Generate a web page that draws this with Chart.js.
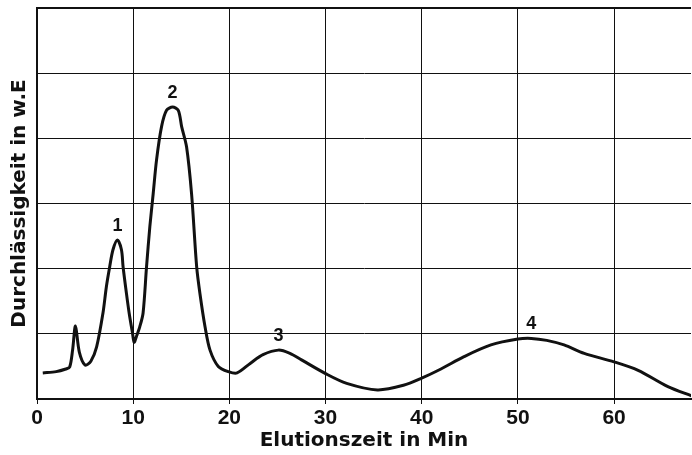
<!DOCTYPE html>
<html>
<head>
<meta charset="utf-8">
<script src="https://cdn.jsdelivr.net/npm/chart.js@4/dist/chart.umd.min.js"></script>
<style>
  html, body { margin: 0; padding: 0; background: #fff; }
  #wrap { width: 692px; height: 455px; }
</style>
</head>
<body>
<div id="wrap"><canvas id="chart"></canvas></div>
<script>
// Elutionskurve: Zeit (min) gegen Durchlässigkeit (w.E.)
const elutionTime = [0.6, 2.0, 3.0, 3.4, 3.7, 4.0, 4.4, 5.0, 5.6, 6.2, 6.86, 7.21, 7.56, 7.9, 8.36, 8.78, 8.95, 9.3, 9.58, 9.93, 10.1,
  10.34, 10.69, 11.03, 11.39, 11.73, 12.08, 12.43, 12.95, 13.47, 14.1, 14.69, 15.04, 15.55, 16.07, 16.6, 16.94, 17.47, 17.99, 18.85, 19.9, 20.8,
  22.2, 23.5, 25.1, 26.3, 27.5, 30.0, 32.2, 35.4, 38.1, 40.0, 42.0, 44.4, 47.2, 50.0, 51.4,
  53.0, 54.8, 56.9, 60.0, 62.5, 65.6, 68.2];
const transmission = [0.40, 0.42, 0.46, 0.49, 0.75, 1.12, 0.72, 0.52, 0.58, 0.80, 1.32, 1.72, 2.03, 2.29, 2.44, 2.29, 2.03, 1.62, 1.32, 1.01, 0.87,
  0.96, 1.11, 1.32, 2.03, 2.64, 3.15, 3.67, 4.18, 4.43, 4.48, 4.43, 4.18, 3.87, 3.15, 2.03, 1.62, 1.11, 0.75, 0.50, 0.42, 0.40,
  0.55, 0.68, 0.75, 0.70, 0.60, 0.39, 0.24, 0.14, 0.21, 0.32, 0.46, 0.65, 0.83, 0.92, 0.93,
  0.90, 0.83, 0.70, 0.57, 0.44, 0.19, 0.04];

// Peaknummern und ihre Lage (Index in den Datenreihen)
const peakNames = ['1', '2', '3', '4'];
const peakIndex = [14, 30, 44, 56];

const xTicks = [0, 10, 20, 30, 40, 50, 60];
const yGrid = [0, 1, 2, 3, 4, 5, 6];

const ink = '#111';

const peakLabels = {
  id: 'peakLabels',
  afterDatasetsDraw(chart) {
    const { ctx, scales: { x, y } } = chart;
    ctx.save();
    ctx.fillStyle = ink;
    ctx.font = 'bold 18px "Liberation Sans", Arial, sans-serif';
    ctx.textAlign = 'center';
    ctx.textBaseline = 'middle';
    peakNames.forEach((name, i) => {
      const k = peakIndex[i];
      const px = x.getPixelForValue(elutionTime[k]);
      const py = y.getPixelForValue(transmission[k]);
      ctx.fillText(name, px, py - 14);
    });
    ctx.restore();
  }
};

new Chart(document.getElementById('chart'), {
  type: 'line',
  data: {
    datasets: [{
      data: elutionTime.map((t, i) => ({ x: t, y: transmission[i] })),
      borderColor: ink,
      borderWidth: 3,
      pointRadius: 0,
      tension: 0.3,
      fill: false
    }]
  },
  options: {
    responsive: true,
    maintainAspectRatio: false,
    animation: false,
    layout: { padding: { top: 8, right: 1, left: 0, bottom: 0 } },
    plugins: { legend: { display: false }, tooltip: { enabled: false } },
    scales: {
      x: {
        type: 'linear',
        min: 0,
        max: 68,
        afterBuildTicks: axis => { axis.ticks = xTicks.map(v => ({ value: v })); },
        afterFit: axis => { axis.height = 56; },
        border: { color: ink, width: 2 },
        grid: { color: ink, lineWidth: 1, tickLength: 5 },
        ticks: {
          color: ink,
          padding: 2,
          maxRotation: 0,
          font: { family: '"Liberation Sans", Arial, sans-serif', size: 21, weight: 'bold' }
        },
        title: {
          display: true,
          text: 'Elutionszeit in Min',
          color: ink,
          padding: { top: 0, bottom: 2 },
          font: { family: '"DejaVu Sans", sans-serif', size: 20, weight: 'bold' }
        }
      },
      y: {
        min: 0,
        max: 6,
        afterBuildTicks: axis => { axis.ticks = yGrid.map(v => ({ value: v })); },
        afterFit: axis => { axis.width = 37; },
        border: { color: ink, width: 2 },
        grid: {
          color: ink,
          lineWidth: ctx => (ctx.tick && ctx.tick.value === 6 ? 2 : 1),
          drawTicks: false
        },
        ticks: { display: false },
        title: {
          display: true,
          text: 'Durchlässigkeit in w.E',
          color: ink,
          padding: { top: 8, bottom: 0 },
          font: { family: '"DejaVu Sans", sans-serif', size: 20, weight: 'bold' }
        }
      }
    }
  },
  plugins: [peakLabels]
});
</script>
</body>
</html>
